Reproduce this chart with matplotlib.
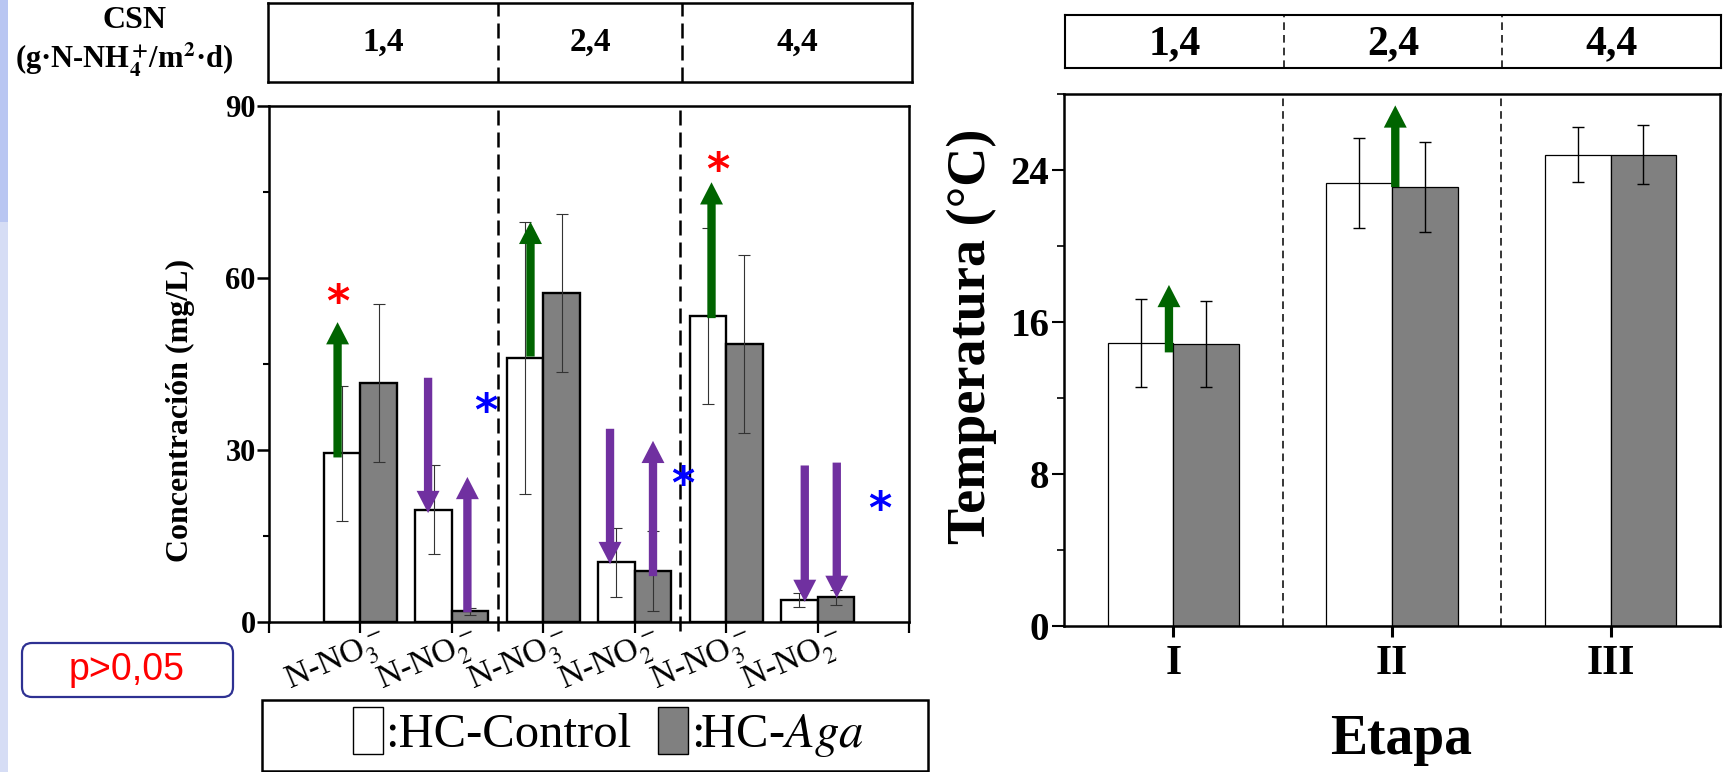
import numpy as np
import matplotlib.pyplot as plt
from matplotlib.patches import FancyArrowPatch, Rectangle, FancyBboxPatch, Patch
from matplotlib.transforms import ScaledTranslation

plt.rcParams['font.family'] = ['Liberation Serif', 'DejaVu Serif']
plt.rcParams['mathtext.fontset'] = 'stix'

# ---- data: left panel (concentration, mg/L) ----
especies = ['N-NO$_3^{\\,-}$', 'N-NO$_2^{\\,-}$', 'N-NO$_3^{\\,-}$', 'N-NO$_2^{\\,-}$', 'N-NO$_3^{\\,-}$', 'N-NO$_2^{\\,-}$']
csn = ['1,4', '2,4', '4,4']
control_conc = [29.4, 19.6, 46.0, 10.4, 53.4, 3.9]
control_err = [11.75, 7.8, 23.7, 6.0, 15.3, 1.2]
aga_conc = [41.7, 1.9, 57.4, 8.9, 48.5, 4.3]
aga_err = [13.8, 0.6, 13.75, 6.9, 15.45, 1.3]

# arrows (x, start, tip) and significance marks (x, y)
flechas_verdes = [(-0.25, 28.7, 52.3), (1.86, 46.3, 69.8), (3.84, 53.0, 76.7)]
flechas_moradas = [(0.74, 42.6, 19.0), (1.17, 1.7, 25.3), (2.73, 33.7, 10.1),
                   (3.20, 8.0, 31.6), (4.86, 27.3, 3.5), (5.21, 27.8, 4.2)]
ast_rojos = [(-0.25, 58.0), (3.91, 81.0)]
ast_azules = [(1.37, 38.9), (3.53, 26.3), (5.68, 21.9)]

# ---- data: right panel (temperature) ----
etapas = ['I', 'II', 'III']
temp_control = [14.9, 23.3, 24.8]
temp_control_err = [2.3, 2.37, 1.45]
temp_aga = [14.85, 23.1, 24.8]
temp_aga_err = [2.28, 2.35, 1.55]
flechas_temp = [(-0.02, 14.4, 17.95), (1.015, 23.1, 27.4)]

W, H = 1725, 772
fig = plt.figure(figsize=(W / 100, H / 100), dpi=100)


def box(x0, y0, x1, y1):
    return [x0 / W, 1 - y1 / H, (x1 - x0) / W, (y1 - y0) / H]


def flecha(ax, x, y0, y1, color):
    a = FancyArrowPatch((x, y0), (x, y1), arrowstyle='simple,head_length=16,head_width=16.5,tail_width=6',
                        mutation_scale=1, shrinkA=0, shrinkB=0, color=color, lw=0, zorder=5)
    ax.add_patch(a)


def asterisco(ax, x, y, color):
    ax.annotate('*', (x, y), xytext=(0, -19), textcoords='offset points', ha='center', va='baseline',
                fontsize=32, fontweight='bold', color=color, family='DejaVu Sans', zorder=6)


# left strip
fig.add_artist(Rectangle((0, 0), 0.08, H / 100, transform=fig.dpi_scale_trans, color='#d6ddf5', lw=0))
fig.add_artist(Rectangle((0, 5.5), 0.08, H / 100 - 5.5, transform=fig.dpi_scale_trans, color='#b9c6f2', lw=0))

# ================= left panel =================
ax1 = fig.add_axes(box(269, 106, 909, 622))
x = np.arange(len(especies))
ax1.bar(x - 0.2, control_conc, 0.4, color='white', edgecolor='black', lw=1.7, zorder=2)
ax1.bar(x + 0.2, aga_conc, 0.4, color='#808080', edgecolor='black', lw=1.7, zorder=2)
ax1.errorbar(x - 0.2, control_conc, yerr=control_err, fmt='none', ecolor='#333333',
             elinewidth=0.8, capsize=4, capthick=0.8, zorder=3)
ax1.errorbar(x + 0.2, aga_conc, yerr=aga_err, fmt='none', ecolor='#333333',
             elinewidth=0.8, capsize=4, capthick=0.8, zorder=3)
for xv in [1.5, 3.5]:
    ax1.plot([xv, xv], [-1.5, 90], color='black', lw=1.8, dashes=(6, 2.8), zorder=1, clip_on=False)
for xf, y0, y1 in flechas_verdes:
    flecha(ax1, xf, y0, y1, '#006400')
for xf, y0, y1 in flechas_moradas:
    flecha(ax1, xf, y0, y1, '#7030A0')
for xa, ya in ast_rojos:
    asterisco(ax1, xa, ya, '#FF0000')
for xa, ya in ast_azules:
    asterisco(ax1, xa, ya, '#0000FF')

ax1.set_xlim(-1, 6)
ax1.set_ylim(0, 90)
ax1.set_yticks([0, 30, 60, 90])
ax1.set_yticks([15, 45, 75], minor=True)
ax1.set_yticklabels(['0', '30', '60', '90'], fontsize=22, fontweight='bold')
ax1.set_xticks(x, especies, fontsize=24, rotation=23, ha='center', va='center')
ax1.set_xticks([-1, 6], minor=True)
ax1.tick_params(axis='y', which='major', direction='out', length=8.5, width=1.8, pad=1)
ax1.tick_params(axis='y', which='minor', direction='out', length=4.5, width=1.5)
ax1.tick_params(axis='x', which='both', direction='out', length=8, width=1.6, pad=21)
ax1.tick_params(right=False, top=False)
for lbl in ax1.get_xticklabels():
    lbl.set_transform(lbl.get_transform() + ScaledTranslation(-0.24, 0, fig.dpi_scale_trans))
for s in ax1.spines.values():
    s.set_linewidth(1.8)
fig.text(180 / W, 1 - 410 / H, 'Concentración (mg/L)', rotation=90, ha='center', va='center',
         fontsize=23, fontweight='bold')

# top box (CSN)
axt1 = fig.add_axes(box(268, 3, 912, 82))
axt1.set_xlim(-1, 6)
axt1.set_ylim(0, 1)
axt1.set_xticks([])
axt1.set_yticks([])
for s in axt1.spines.values():
    s.set_linewidth(1.8)
for xv in [1.5, 3.5]:
    axt1.axvline(xv, color='black', lw=1.8, dashes=(6, 2.8))
for xc, t in zip([0.25, 2.5, 4.75], csn):
    axt1.text(xc, 0.5, t, ha='center', va='center', fontsize=24, fontweight='bold')
fig.text(134 / W, 1 - 20 / H, 'CSN', ha='center', va='center', fontsize=23, fontweight='bold')
fig.text(124 / W, 1 - 60 / H, r'(g·N-NH$_\mathbf{4}^{\,\mathbf{+}}$/m$^\mathbf{2}$·d)', ha='center', va='center',
         fontsize=22, fontweight='bold')

# p-value box
fig.add_artist(FancyBboxPatch((0.22, (H - 697) / 100), 2.11, 0.54, boxstyle='round,pad=0,rounding_size=0.1',
                              transform=fig.dpi_scale_trans, fc='white', ec='#2E3192', lw=1.6))
fig.text(127 / W, 1 - 670 / H, 'p>0,05', ha='center', va='center', fontsize=27, color='#FF0000',
         family='Liberation Sans')

# legend
fig.add_artist(Rectangle((2.62, 0.01), 6.66, (H - 700) / 100 - 0.01, transform=fig.dpi_scale_trans,
                         fc='none', ec='black', lw=1.8))
handles = [Patch(fc='white', ec='black', lw=1), Patch(fc='#808080', ec='black', lw=1)]
fig.legend(handles, [':HC-Control', r':HC-$\mathit{Aga}$'], loc='center', bbox_to_anchor=(608 / W, 1 - 733 / H),
           ncol=2, frameon=False, fontsize=35, handlelength=0.62, handleheight=1.1, handletextpad=0.05,
           columnspacing=0.55, borderpad=0)

# ================= right panel =================
ax2 = fig.add_axes(box(1064, 94, 1720, 626))
xe = np.arange(len(etapas))
ax2.bar(xe - 0.15, temp_control, 0.3, color='white', edgecolor='black', lw=0.9, zorder=2)
ax2.bar(xe + 0.15, temp_aga, 0.3, color='#808080', edgecolor='black', lw=0.9, zorder=2)
ax2.errorbar(xe - 0.15, temp_control, yerr=temp_control_err, fmt='none', ecolor='black',
             elinewidth=1, capsize=4.5, capthick=1, zorder=3)
ax2.errorbar(xe + 0.15, temp_aga, yerr=temp_aga_err, fmt='none', ecolor='black',
             elinewidth=1, capsize=4.5, capthick=1, zorder=3)
for xv in [0.5, 1.5]:
    ax2.axvline(xv, color='black', lw=1.1, dashes=(5, 3.3), zorder=1)
for xf, y0, y1 in flechas_temp:
    flecha(ax2, xf, y0, y1, '#006400')
ax2.set_xlim(-0.5, 2.5)
ax2.set_ylim(0, 28)
ax2.set_yticks([0, 8, 16, 24])
ax2.set_yticks([4, 12, 20, 28], minor=True)
ax2.set_yticklabels(['0', '8', '16', '24'], fontsize=28, fontweight='bold')
ax2.set_xticks(xe, etapas, fontsize=30, fontweight='bold')
ax2.tick_params(axis='y', which='major', direction='out', length=8.5, width=1.5, pad=2)
ax2.tick_params(axis='y', which='minor', direction='out', length=5, width=1.2)
ax2.tick_params(axis='x', direction='out', length=8, width=2.2, pad=6)
for s in ax2.spines.values():
    s.set_linewidth(1.8)
fig.text(972 / W, 1 - 336 / H, 'Temperatura (°C)', rotation=90, ha='center', va='center',
         fontsize=39, fontweight='bold')
fig.text(1401 / W, 1 - 754 / H, 'Etapa', ha='center', va='baseline', fontsize=40, fontweight='bold')

axt2 = fig.add_axes(box(1065, 15, 1721, 68))
axt2.set_xlim(-0.5, 2.5)
axt2.set_ylim(0, 1)
axt2.set_xticks([])
axt2.set_yticks([])
for s in axt2.spines.values():
    s.set_linewidth(1.5)
for xv in [0.5, 1.5]:
    axt2.axvline(xv, color='black', lw=1.1, dashes=(5, 3.3))
for xc, t in zip(xe, csn):
    axt2.text(xc, 0.45, t, ha='center', va='center', fontsize=30, fontweight='bold')

fig.savefig('out.png', dpi=100)
